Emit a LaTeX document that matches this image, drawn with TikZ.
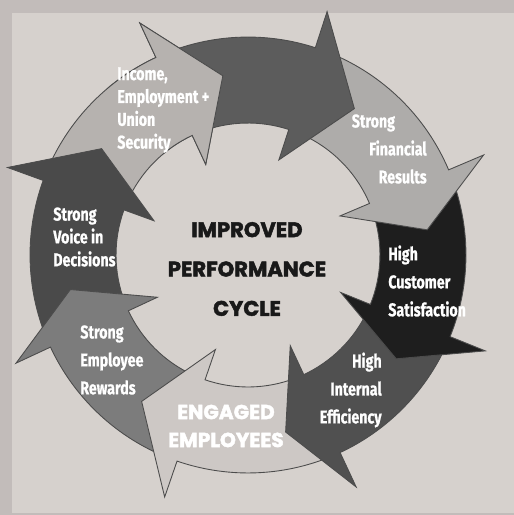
\documentclass[tikz,border=0pt]{standalone}
\usepackage{fontspec}
\newfontfamily\labelfont[FakeStretch=0.77, FakeBold=0.8]{Fira Sans}
\newfontfamily\titlefont[FakeBold=2.2]{Poppins}

\definecolor{framegray}{RGB}{194,188,186}
\definecolor{panelgray}{RGB}{214,209,205}
\definecolor{topdark}{RGB}{92,92,92}
\definecolor{finlight}{RGB}{174,172,170}
\definecolor{custblack}{RGB}{30,30,30}
\definecolor{effdark}{RGB}{80,80,80}
\definecolor{engpale}{RGB}{205,200,197}
\definecolor{rewmid}{RGB}{124,124,124}
\definecolor{voicedark}{RGB}{74,74,74}
\definecolor{inclight}{RGB}{182,178,175}

\begin{document}
\begin{tikzpicture}[
    x=0.02cm, y=0.02cm,
    arrowpart/.style={draw=black!70, line width=0.5pt, line join=miter},
    ringlabel/.style={text=white, inner sep=0pt, font=\labelfont\bfseries\fontsize{10.5}{15.9}\selectfont},
    ringtight/.style={ringlabel, font=\labelfont\bfseries\fontsize{10.5}{13}\selectfont},
    centretitle/.style={inner sep=0pt, align=center, font=\titlefont\bfseries\fontsize{12}{22.4}\selectfont}
]
\def\rin{2.64cm}
\def\rout{4.36cm}
\def\win{2.0cm}
\def\wout{5.12cm}
\def\rtip{3.62cm}

% Frame and panel
\useasboundingbox (0,0) rectangle (514,-515);
\fill[framegray] (0,0) rectangle (514,-515);
\fill[panelgray] (12,-13) rectangle (514,-513);

% Ring of arrows, clockwise; each head lies on the next tail
\begin{scope}[shift={(248,-255)}]
\foreach \shade/\tl/\bk/\tp in {inclight/-204/-245/-262, voicedark/-159/-200/-216,
    rewmid/-113/-155/-169, engpale/-69/-109/-126, effdark/-26/-65/-78,
    custblack/19/-22/-35, finlight/68/23/8, topdark/111/72/54}
  \filldraw[arrowpart, fill=\shade] (\tl:\rin) -- (\tl:\rout)
    arc[start angle=\tl, end angle=\bk, radius=\rout] -- (\bk:\wout) -- (\tp:\rtip)
    -- (\bk:\win) -- (\bk:\rin) arc[start angle=\bk, end angle=\tl, radius=\rin] -- cycle;
% income head back over the top arrow's tail
\begin{scope}
  \clip (0,0) -- (-230:6cm) -- (-280:6cm) -- cycle;
  \filldraw[arrowpart, fill=inclight] (-204:\rin) -- (-204:\rout)
    arc[start angle=-204, end angle=-245, radius=\rout] -- (-245:\wout) -- (-262:\rtip)
    -- (-245:\win) -- (-245:\rin) arc[start angle=-245, end angle=-204, radius=\rin] -- cycle;
\end{scope}
\end{scope}

% Labels on the arrows
\node[ringtight, anchor=west, align=left] (income) at (117,-110) {Income,\\Employment +\\Union\\Security};
\node[ringlabel, anchor=east, align=right] (financial) at (427,-149) {Strong\hspace*{18pt}\\Financial\\Results};
\node[ringlabel, anchor=west, align=left] (customer) at (388,-281) {High\\Customer\\Satisfaction};
\node[ringlabel, anchor=east, align=right] (internal) at (382,-390) {High\\Internal\\Efficiency};
\node[centretitle, text=white, font=\titlefont\bfseries\fontsize{11.5}{15.9}\selectfont] (engaged) at (226,-426) {ENGAGED\\EMPLOYEES};
\node[ringlabel, anchor=west, align=left] (rewards) at (80,-360) {Strong\\Employee\\Rewards};
\node[ringtight, anchor=west, align=left] (voice) at (53,-237) {Strong\\Voice in\\Decisions};

% Centre
\node[centretitle, text=black!90] (cycle) at (247,-269) {IMPROVED\\PERFORMANCE\\CYCLE};

\end{tikzpicture}
\end{document}
